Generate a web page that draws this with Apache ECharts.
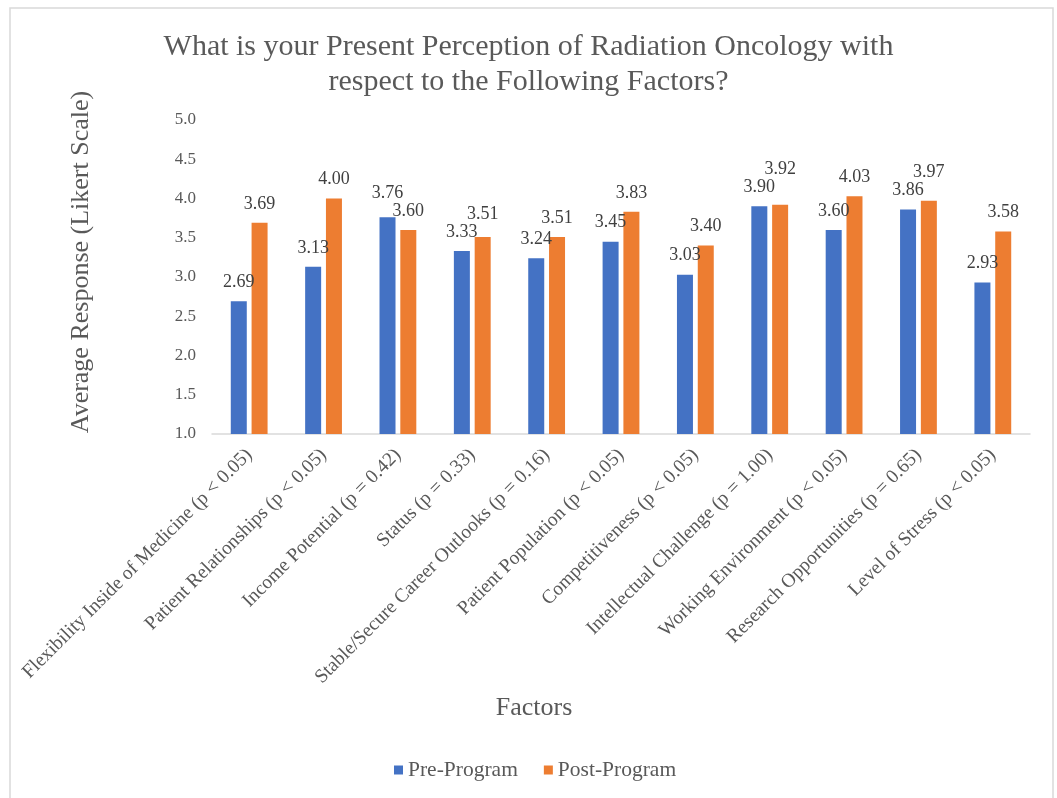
<!DOCTYPE html>
<html>
<head>
<meta charset="utf-8">
<script src="https://cdn.jsdelivr.net/npm/echarts@6/dist/echarts.min.js"></script>
<style>
  html, body { margin: 0; padding: 0; background: #fff; }
  #chart { width: 1057px; height: 798px; }
</style>
</head>
<body>
<div id="chart"></div>
<script>
const factors = [
    'Flexibility Inside of Medicine (p < 0.05)',
    'Patient Relationships (p < 0.05)',
    'Income Potential (p = 0.42)',
    'Status (p = 0.33)',
    'Stable/Secure Career Outlooks (p = 0.16)',
    'Patient Population (p < 0.05)',
    'Competitiveness (p < 0.05)',
    'Intellectual Challenge (p = 1.00)',
    'Working Environment (p < 0.05)',
    'Research Opportunities (p = 0.65)',
    'Level of Stress (p < 0.05)'
];
const preProgram = [2.69, 3.13, 3.76, 3.33, 3.24, 3.45, 3.03, 3.90, 3.60, 3.86, 2.93];
const postProgram = [3.69, 4.00, 3.60, 3.51, 3.51, 3.83, 3.40, 3.92, 4.03, 3.97, 3.58];

const serif = "'Liberation Serif', 'DejaVu Serif', serif";
const textGray = '#595959';

const chart = echarts.init(document.getElementById('chart'));

function barLabel(dx) {
    return {
        show: true,
        position: 'top',
        distance: 10,
        offset: [dx, 0],
        color: '#404040',
        fontFamily: serif,
        fontSize: 18,
        formatter: p => p.value.toFixed(2)
    };
}

// when the two bars of a pair are nearly the same height, lift the taller one's label
function spreadLabels(params) {
    const i = params.dataIndex;
    const yPre = chart.convertToPixel({ yAxisIndex: 0 }, preProgram[i]);
    const yPost = chart.convertToPixel({ yAxisIndex: 0 }, postProgram[i]);
    const gap = Math.abs(yPre - yPost);
    const need = 18;
    if (gap >= need) return {};
    const mine = params.seriesIndex === 0 ? yPre : yPost;
    const other = params.seriesIndex === 0 ? yPost : yPre;
    if (mine <= other) return { dy: -(need - gap) };
    return {};
}

chart.setOption({
    backgroundColor: '#fff',
    animation: false,
    title: {
        text: 'What is your Present Perception of Radiation Oncology with\nrespect to the Following Factors?',
        left: 'center',
        top: 25,
        textStyle: {
            fontFamily: serif,
            fontSize: 30,
            fontWeight: 'normal',
            color: textGray,
            lineHeight: 35
        }
    },
    graphic: [{
        type: 'rect',
        shape: { x: 10, y: 8, width: 1043, height: 800 },
        style: { fill: 'none', stroke: '#d9d9d9', lineWidth: 1.5 },
        silent: true
    }],
    legend: {
        bottom: 12,
        left: 389,
        itemWidth: 9,
        itemHeight: 9,
        itemGap: 26,
        icon: 'rect',
        textStyle: { fontFamily: serif, fontSize: 21.5, color: textGray }
    },
    grid: { left: 212, right: 27, top: 120, bottom: 364 },
    xAxis: {
        type: 'category',
        data: factors,
        name: 'Factors',
        nameLocation: 'middle',
        nameGap: 261,
        nameTextStyle: {
            fontFamily: serif, fontSize: 26, color: textGray,
            padding: [0, 174, 0, 0]
        },
        axisLine: { lineStyle: { color: '#d9d9d9', width: 1.5 } },
        axisTick: { show: false },
        axisLabel: {
            interval: 0,
            rotate: 45,
            margin: 18,
            fontFamily: serif,
            fontSize: 19.5,
            color: textGray
        }
    },
    yAxis: {
        type: 'value',
        min: 1,
        max: 5,
        interval: 0.5,
        name: 'Average Response (Likert Scale)',
        nameLocation: 'middle',
        nameGap: 118,
        nameTextStyle: {
            fontFamily: serif, fontSize: 26, color: textGray,
            padding: [0, 0, 0, 30]
        },
        axisLine: { show: false },
        axisTick: { show: false },
        splitLine: { show: false },
        axisLabel: {
            margin: 16,
            fontFamily: serif,
            fontSize: 17,
            color: textGray,
            formatter: v => v.toFixed(1)
        }
    },
    series: [
        {
            name: 'Pre-Program',
            type: 'bar',
            data: preProgram,
            barWidth: 16,
            barGap: '30%',
            itemStyle: { color: '#4472C4' },
            label: barLabel(-5),
            labelLayout: spreadLabels
        },
        {
            name: 'Post-Program',
            type: 'bar',
            data: postProgram,
            barWidth: 16,
            itemStyle: { color: '#ED7D31' },
            label: barLabel(5),
            labelLayout: spreadLabels
        }
    ]
});
</script>
</body>
</html>
